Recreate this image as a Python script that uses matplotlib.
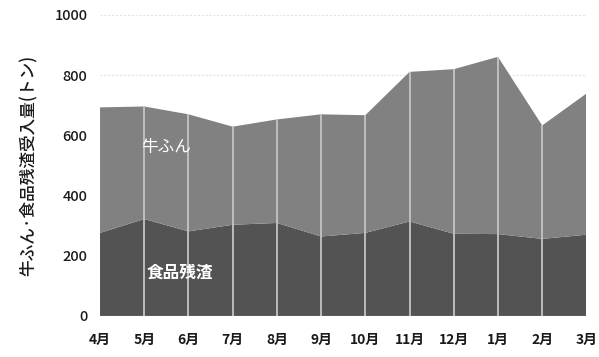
import matplotlib
matplotlib.use("Agg")
import matplotlib.pyplot as plt

plt.rcParams['font.family'] = ['Noto Sans CJK JP', 'DejaVu Sans']

months = ["4月", "5月", "6月", "7月", "8月", "9月", "10月", "11月", "12月", "1月", "2月", "3月"]
food_waste = [276, 322, 281, 303, 309, 264, 276, 314, 273, 272, 256, 270]
total = [693, 696, 670, 629, 653, 670, 667, 811, 820, 861, 633, 739]
cow_manure = [t - f for t, f in zip(total, food_waste)]
yticks = [0, 200, 400, 600, 800, 1000]

fig = plt.figure(figsize=(5.99, 3.57), dpi=100)
ax = fig.add_axes([0.167, 0.115, 0.812, 0.843])
x = list(range(len(months)))

for yv in yticks[1:]:
    ax.axhline(yv, color="#e2e2e2", lw=0.8, ls=(0, (2, 1.5)), zorder=0)

ax.stackplot(x, food_waste, cow_manure, colors=["#535353", "#818181"], lw=0, zorder=1)

ax.vlines(x[1:-1], 0, total[1:-1], color="#c4c4c4", lw=1.3, zorder=2)

ax.set_xlim(0, len(months) - 1)
ax.set_ylim(0, 1000)
ax.set_xticks(x)
ax.set_xticklabels(months, fontsize=10, fontweight="bold", color="#1a1a1a")
ax.set_yticks(yticks)
ax.set_yticklabels([str(v) for v in yticks], fontsize=10.5, fontweight="medium", color="#1a1a1a")
ax.tick_params(length=0, pad=9)
ax.tick_params(axis="x", pad=12)
for s in ax.spines.values():
    s.set_visible(False)

ax.set_ylabel("牛ふん·食品残渣受入量(トン)", fontsize=12, fontweight="medium", color="#1a1a1a", labelpad=12)

ax.text(1.5, 560, "牛ふん", color="white", fontsize=12, ha="center", va="center", zorder=3)
ax.text(1.8, 145, "食品残渣", color="white", fontsize=12, fontweight="bold", ha="center", va="center", zorder=3)

fig.savefig("out.png", dpi=100, facecolor="white")
